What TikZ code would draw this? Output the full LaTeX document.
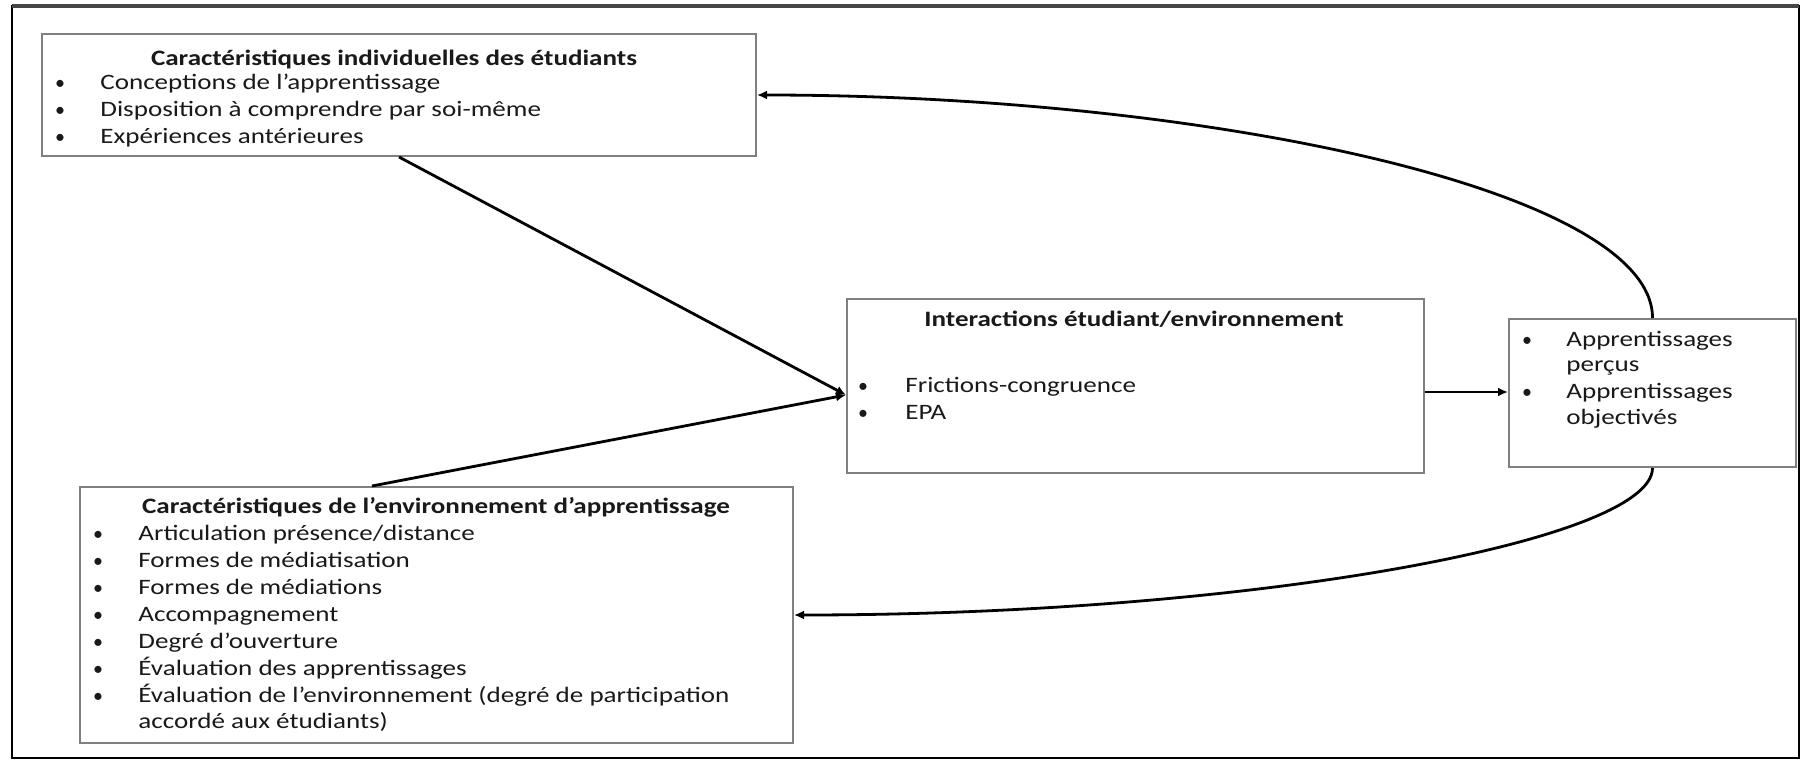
\documentclass[tikz,border=0pt]{standalone}
\usepackage{fontspec}
% wide-set Calibri-like text
\setmainfont{Carlito}[FakeStretch=1.23]
\usetikzlibrary{arrows.meta}
\definecolor{boxgray}{RGB}{128,128,128}
\definecolor{framegray}{RGB}{70,70,70}
\definecolor{ink}{RGB}{25,25,25}
\newfontfamily\bulletfont{Carlito}
\begin{document}
\begin{tikzpicture}[x=0.5pt,y=-0.5pt,
  box/.style={draw=boxgray, line width=1pt, fill=white, rectangle, inner sep=0pt},
  txt/.style={anchor=base west, inner sep=0pt, text=ink, font=\fontsize{11}{13.5}\selectfont},
  ttl/.style={anchor=base, inner sep=0pt, text=ink, font=\fontsize{11}{13.5}\selectfont\bfseries},
  bul/.style={anchor=base, inner sep=0pt, text=ink, font=\fontsize{10}{13.5}\bulletfont},
  link/.style={line width=1.4pt, draw=black, -{Latex[length=5pt,width=4.5pt]}}]
\useasboundingbox (0,0) rectangle (1801,760);
\fill[white] (0,0) rectangle (1801,760);

% outer frame
\draw[line width=1pt] (12,6) rectangle (1799,758);
\draw[line width=1.6pt, framegray] (12,6) -- (1799,6);

% boxes
\node[box, minimum width=357pt, minimum height=61pt] (b1) at (399,95) {};
\node[box, minimum width=356.5pt, minimum height=128pt] (b2) at (436.5,615) {};
\node[box, minimum width=288.5pt, minimum height=87pt] (b3) at (1135.5,386) {};
\node[box, minimum width=143.5pt, minimum height=74pt] (b4) at (1652.5,393) {};

% individual characteristics
\node[ttl] (t1) at (394,65) {Caractéristiques individuelles des étudiants};
\node[bul] (b1p1) at (60,90) {•};
\node[txt] (b1l1) at (100,90) {Conceptions de l’apprentissage};
\node[bul] (b1p2) at (60,116.5) {•};
\node[txt] (b1l2) at (100,116.5) {Disposition à comprendre par soi-même};
\node[bul] (b1p3) at (60,143) {•};
\node[txt] (b1l3) at (100,143) {Expériences antérieures};

% learning environment characteristics
\node[ttl] (t2) at (436,513) {Caractéristiques de l’environnement d’apprentissage};
\node[bul] (b2p1) at (98,540) {•};
\node[txt] (b2l1) at (138,540) {Articulation présence/distance};
\node[bul] (b2p2) at (98,567) {•};
\node[txt] (b2l2) at (138,567) {Formes de médiatisation};
\node[bul] (b2p3) at (98,594) {•};
\node[txt] (b2l3) at (138,594) {Formes de médiations};
\node[bul] (b2p4) at (98,621) {•};
\node[txt] (b2l4) at (138,621) {Accompagnement};
\node[bul] (b2p5) at (98,648) {•};
\node[txt] (b2l5) at (138,648) {Degré d’ouverture};
\node[bul] (b2p6) at (98,675) {•};
\node[txt] (b2l6) at (138,675) {Évaluation des apprentissages};
\node[bul] (b2p7) at (98,702) {•};
\node[txt] (b2l7) at (138,702) {Évaluation de l’environnement (degré de participation};
\node[txt] (b2l8) at (138,728) {accordé aux étudiants)};

% interactions
\node[ttl] (t3) at (1134,326) {Interactions étudiant/environnement};
\node[bul] (b3p1) at (863,392) {•};
\node[txt] (b3l1) at (905,392) {Frictions-congruence};
\node[bul] (b3p2) at (863,419) {•};
\node[txt] (b3l2) at (905,419) {EPA};

% outcomes
\node[bul] (b4p1) at (1527,346) {•};
\node[txt] (b4l1) at (1566,346) {Apprentissages};
\node[txt] (b4l2) at (1566,371) {perçus};
\node[bul] (b4p2) at (1527,398) {•};
\node[txt] (b4l3) at (1566,398) {Apprentissages};
\node[txt] (b4l4) at (1566,424) {objectivés};

% connectors
\draw[link] (b1.south) -- ([yshift=-4.5pt]b3.west);
\draw[link] ([xshift=-32.25pt]b2.north) -- ([yshift=-4.5pt]b3.west);
\draw[link] ([yshift=-3pt]b3.east) -- ([yshift=0.5pt]b4.west);
\draw[link] (b4.north) .. controls +(0,-129) and +(444,0) .. (b1.east);
\draw[link] (b4.south) .. controls +(0,73) and +(457,0) .. (b2.east);
\end{tikzpicture}
\end{document}
